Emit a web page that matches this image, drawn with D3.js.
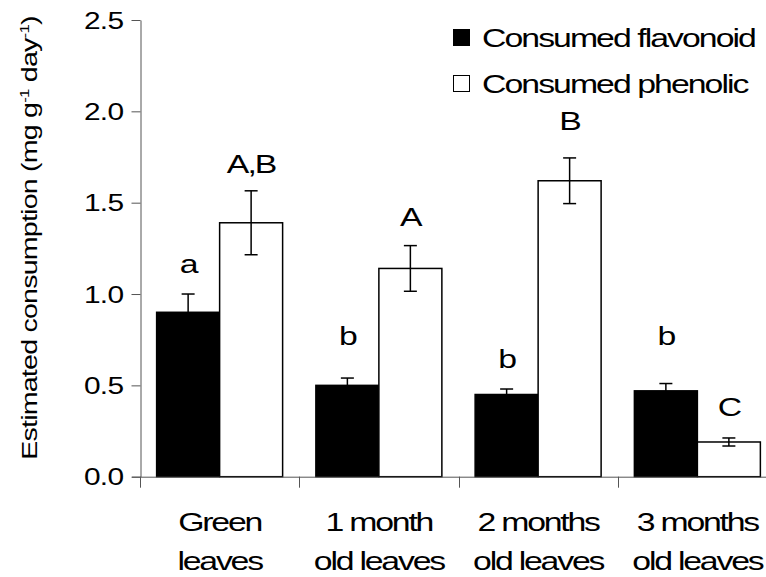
<!DOCTYPE html>
<html lang="en">
<head>
    <meta charset="UTF-8">
    <title>Estimated consumption</title>
    <style>
        body { margin: 0; background: #fff; }
        svg { display: block; }
        text { font-family: "Liberation Sans", Arial, sans-serif; fill: #000; }
        .axis path, .axis line { stroke: #555; stroke-width: 1px; }
    </style>
</head>
<body>
    <div id="chart"></div>
    <script src="https://d3js.org/d3.v7.min.js"></script>
    <script>
        // values
        const categories = [["Green", "leaves"], ["1 month", "old leaves"], ["2 months", "old leaves"], ["3 months", "old leaves"]];
        const series = ["Consumed flavonoid", "Consumed phenolic"];
        const flavonoid = [0.90, 0.50, 0.45, 0.47];
        const flavonoidErr = [0.10, 0.04, 0.03, 0.04];
        const phenolic = [1.39, 1.14, 1.62, 0.19];
        const phenolicErr = [0.175, 0.125, 0.125, 0.022];
        const flavLetters = ["a", "b", "b", "b"];
        const flavLetterAt = [1.115, 0.72, 0.595, 0.72];
        const phenLetters = ["A,B", "A", "B", "C"];
        const phenLetterAt = [1.665, 1.372, 1.898, 0.33];
        const yTicks = [0, 0.5, 1.0, 1.5, 2.0, 2.5];

        const width = 766, height = 577;
        const SX = 1.3; // the original text is stretched sideways

        const svg = d3.select("#chart").append("svg")
            .attr("width", width)
            .attr("height", height);

        const y = d3.scaleLinear().domain([0, 2.5]).range([476.7, 20]);
        const x0 = d3.scaleBand().domain(d3.range(categories.length)).range([140, 777]);
        const x1 = d3.scaleBand().domain([0, 1]).range([0, x0.bandwidth()]).paddingOuter(0.264);

        const rows = categories.map((c, i) => ({
            i,
            vals: [
                { s: 0, v: flavonoid[i], e: flavonoidErr[i], l: flavLetters[i], la: flavLetterAt[i] },
                { s: 1, v: phenolic[i], e: phenolicErr[i], l: phenLetters[i], la: phenLetterAt[i] }
            ]
        }));

        // bars
        const g = svg.selectAll(".grp").data(rows).enter().append("g")
            .attr("transform", d => `translate(${x0(d.i)},0)`);

        const bar = g.selectAll(".bar").data(d => d.vals).enter().append("g");

        bar.append("rect")
            .attr("x", d => x1(d.s))
            .attr("y", d => y(d.v))
            .attr("width", x1.bandwidth())
            .attr("height", d => y(0) - y(d.v))
            .attr("fill", d => d.s === 0 ? "#000" : "#fff")
            .attr("stroke", "#000")
            .attr("stroke-width", 1.5);

        // error bars
        const cx = d => x1(d.s) + x1.bandwidth() / 2;
        bar.append("line")
            .attr("x1", cx).attr("x2", cx)
            .attr("y1", d => y(d.v + d.e)).attr("y2", d => y(d.v - d.e))
            .attr("stroke", "#000").attr("stroke-width", 1.5);
        [1, -1].forEach(sgn => {
            bar.append("line")
                .attr("x1", d => cx(d) - 6.5).attr("x2", d => cx(d) + 6.5)
                .attr("y1", d => y(d.v + sgn * d.e)).attr("y2", d => y(d.v + sgn * d.e))
                .attr("stroke", "#000").attr("stroke-width", 1.5);
        });

        // significance letters
        bar.append("text")
            .attr("transform", d => `translate(${cx(d)},${y(d.la)}) scale(${SX},1)`)
            .attr("text-anchor", "middle")
            .style("font-size", "26px")
            .style("letter-spacing", "-1.5px")
            .text(d => d.l);

        // y axis
        const yAxis = svg.append("g").attr("class", "axis")
            .attr("transform", "translate(140.5,0)")
            .call(d3.axisLeft(y).tickValues(yTicks).tickFormat(d3.format(".1f")).tickSize(9).tickSizeOuter(0));
        yAxis.selectAll("text")
            .attr("x", 0).attr("dy", "0.36em")
            .attr("transform", "translate(-17,0) scale(" + SX + ",1)")
            .style("font-size", "23px")
            .style("letter-spacing", "-0.5px");

        // x axis with boundary ticks
        const xAxis = svg.append("g").attr("class", "axis");
        xAxis.append("line")
            .attr("x1", 132).attr("x2", width)
            .attr("y1", y(0) + 0.5).attr("y2", y(0) + 0.5);
        xAxis.selectAll(".xt").data(d3.range(categories.length)).enter().append("line")
            .attr("x1", d => Math.round(x0(d)) + 0.5).attr("x2", d => Math.round(x0(d)) + 0.5)
            .attr("y1", y(0)).attr("y2", y(0) + 11);

        const lab = svg.selectAll(".xl").data(categories).enter().append("g")
            .attr("transform", (d, i) => `translate(${x0(i) + x0.bandwidth() / 2},0)`);
        [531, 570].forEach((yy, k) => {
            lab.append("text")
                .attr("transform", `translate(0,${yy}) scale(${SX},1)`)
                .attr("text-anchor", "middle")
                .style("font-size", "26px")
                .style("letter-spacing", "-1.7px")
                .text(d => d[k]);
        });

        // y label
        const yl = svg.append("text")
            .attr("transform", `translate(37,238) rotate(-90) scale(${SX},1)`)
            .attr("text-anchor", "middle")
            .style("font-size", "22px")
            .style("letter-spacing", "-0.6px");
        yl.append("tspan").text("Estimated consumption (mg g");
        yl.append("tspan").attr("dy", -8).style("font-size", "13px").text("-1");
        yl.append("tspan").attr("dy", 8).text(" day");
        yl.append("tspan").attr("dy", -8).style("font-size", "13px").text("-1");
        yl.append("tspan").attr("dy", 8).text(")");

        // legend
        const leg = svg.selectAll(".leg").data(series).enter().append("g")
            .attr("transform", (d, i) => `translate(453,${29 + i * 46})`);
        leg.append("rect")
            .attr("x", 0.5).attr("y", 0.5)
            .attr("width", 16).attr("height", 16)
            .attr("fill", (d, i) => i === 0 ? "#000" : "#fff")
            .attr("stroke", "#000").attr("stroke-width", 1);
        leg.append("text")
            .attr("transform", `translate(29,17.5) scale(${SX},1)`)
            .style("font-size", "26px")
            .style("letter-spacing", "-1.5px")
            .text(d => d);
    </script>
</body>
</html>
